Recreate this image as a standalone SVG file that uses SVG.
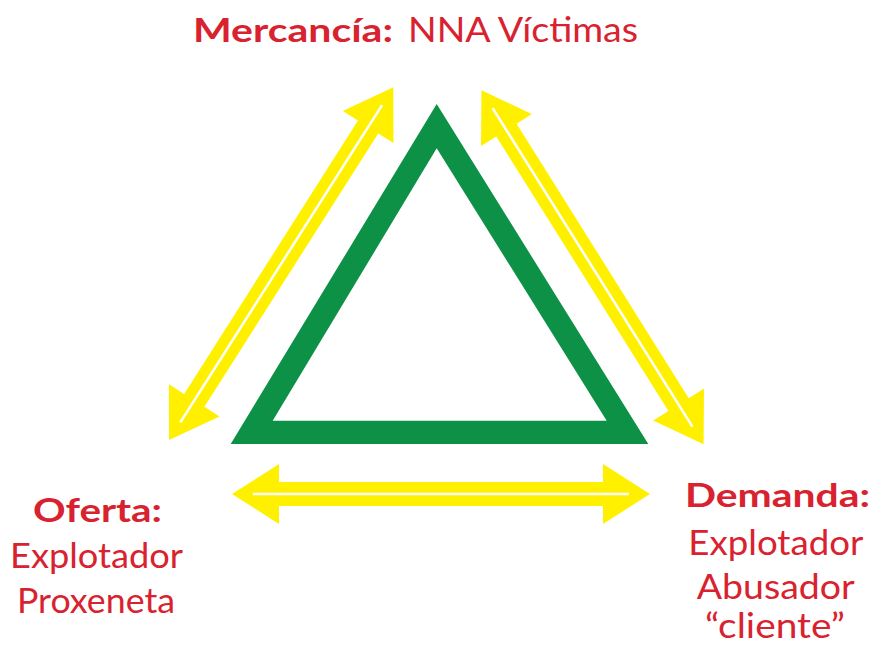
<svg xmlns="http://www.w3.org/2000/svg" xmlns:xlink="http://www.w3.org/1999/xlink" width="874" height="647" viewBox="0 0 874 647">
  <style>
    .lbl { fill: #D9222F; font-family: Lato, "Noto Sans", "Liberation Sans", sans-serif; }
    .b { font-weight: bold; font-size: 32px; }
    .r { font-weight: normal; font-size: 35px; }
    .arrow { fill: #FFF000; }
    .core { stroke: #FFFFFF; stroke-width: 2.5; fill: none; }
  </style>
  <defs>
    <g id="dblArrow">
      <path class="arrow" d="M-209,0 L-162,-30 L-162,-12 L162,-12 L162,-30 L209,0 L162,30 L162,12 L-162,12 L-162,30 Z"/>
      <path class="core" d="M-188,0 L188,0"/>
    </g>
  </defs>
  <rect width="874" height="647" fill="#FFFFFF"/>

  <g id="triangle">
    <path d="M436.7,104 L230.7,444 L648.3,444 Z M436.7,148.3 L606.7,420.7 L272.7,420.7 Z" fill="#0C9146" fill-rule="evenodd"/>
  </g>

  <g id="connectors">
    <use xlink:href="#dblArrow" href="#dblArrow" transform="translate(281.2,263.7) rotate(-57.55)"/>
    <use xlink:href="#dblArrow" href="#dblArrow" transform="translate(592.5,267.3) rotate(57.9)"/>
    <use xlink:href="#dblArrow" href="#dblArrow" transform="translate(441,494)"/>
  </g>

  <g id="mercancia">
    <text class="lbl b" x="193" y="41.7" textLength="200" lengthAdjust="spacingAndGlyphs">Mercancía:</text>
    <text class="lbl r" x="408" y="41.7" textLength="230" lengthAdjust="spacingAndGlyphs">NNA Víctimas</text>
  </g>

  <g id="oferta">
    <text class="lbl b" x="33" y="521.7" textLength="129" lengthAdjust="spacingAndGlyphs">Oferta:</text>
    <text class="lbl r" x="10" y="568" textLength="173" lengthAdjust="spacingAndGlyphs">Explotador</text>
    <text class="lbl r" x="17" y="613" textLength="158" lengthAdjust="spacingAndGlyphs">Proxeneta</text>
  </g>

  <g id="demanda">
    <text class="lbl b" x="685" y="507" textLength="185" lengthAdjust="spacingAndGlyphs">Demanda:</text>
    <text class="lbl r" x="688.3" y="555" textLength="175" lengthAdjust="spacingAndGlyphs">Explotador</text>
    <text class="lbl r" x="696.7" y="599" textLength="158" lengthAdjust="spacingAndGlyphs">Abusador</text>
    <text class="lbl r" x="705" y="638" textLength="140" lengthAdjust="spacingAndGlyphs">“cliente”</text>
  </g>
</svg>
